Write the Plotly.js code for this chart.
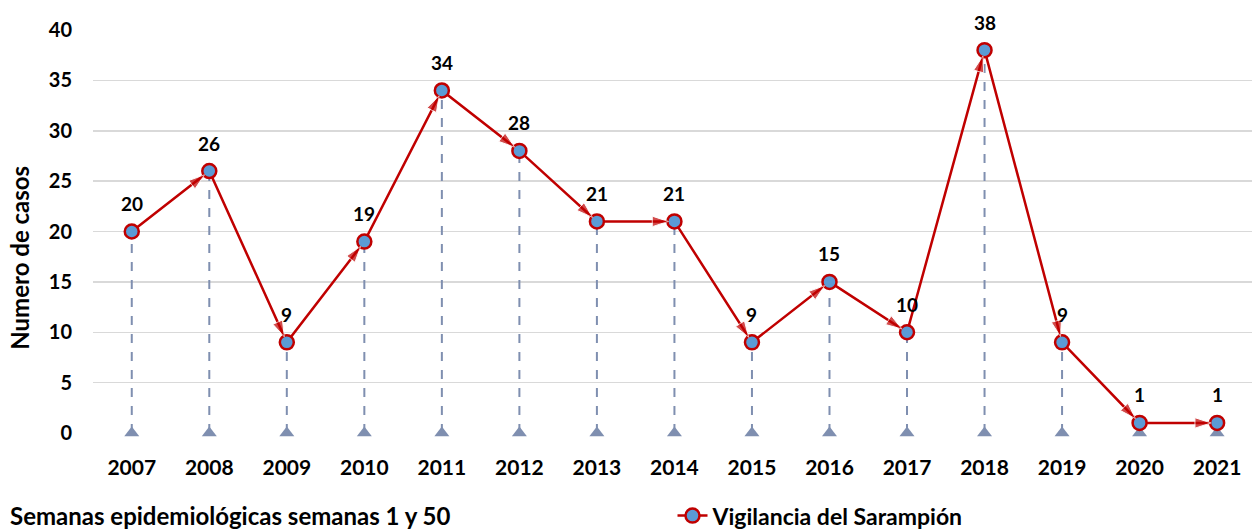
<!DOCTYPE html>
<html>
<head>
<meta charset="utf-8">
<script src="https://cdn.plot.ly/plotly-3.0.1.min.js"></script>
<style>
  html, body { margin: 0; padding: 0; background: #fff; }
  #chart { width: 1252px; height: 529px; }
</style>
</head>
<body>
<div id="chart"></div>
<script>
// ── Data ──────────────────────────────────────────────────────
const YEARS = ["2007", "2008", "2009", "2010", "2011", "2012", "2013", "2014",
               "2015", "2016", "2017", "2018", "2019", "2020", "2021"];
const CASES = [20, 26, 9, 19, 34, 28, 21, 21, 9, 15, 10, 38, 9, 1, 1];
const Y_TICKS = [0, 5, 10, 15, 20, 25, 30, 35, 40];

const RED  = "#C00000";
const BLUE = "#5B9BD5";
const DROP = "#7F8FB0";
const FONT = "Lato, 'Open Sans', sans-serif";

// drop lines: one segment per year, broken by nulls
const dropX = [], dropY = [];
YEARS.forEach((yr, i) => {
  dropX.push(yr, yr, null);
  dropY.push(0, CASES[i], null);
});

const traces = [
  {
    x: dropX, y: dropY, mode: "lines", type: "scatter",
    line: { color: DROP, width: 2, dash: "dash" },
    hoverinfo: "skip", showlegend: false,
  },
  {
    x: YEARS, y: YEARS.map(() => 0), mode: "markers", type: "scatter",
    marker: { symbol: "triangle-up", size: 13, color: DROP },
    cliponaxis: false, hoverinfo: "skip", showlegend: false,
  },
  {
    name: "Vigilancia del Sarampión",
    x: YEARS, y: CASES, mode: "lines+markers", type: "scatter",
    line: { color: RED, width: 2.5 },
    marker: { symbol: "circle", size: 14, color: BLUE, line: { color: RED, width: 2.5 } },
    cliponaxis: false,
  },
  {
    x: YEARS, y: CASES, mode: "markers", type: "scatter",
    marker: {
      symbol: "arrow", angleref: "previous", standoff: 6,
      size: CASES.map((_, i) => (i === 0 ? 0 : 17)),
      color: RED,
    },
    cliponaxis: false, hoverinfo: "skip", showlegend: false,
  },
];

// value labels above the points (category axis -> use index)
const labels = YEARS.map((yr, i) => ({
  x: i, y: CASES[i], text: String(CASES[i]),
  showarrow: false, yshift: 28,
  font: { family: FONT, size: 19, color: "#000", weight: "bold" },
}));

labels.push({
  xref: "paper", yref: "paper", x: -0.073, y: -0.205,
  xanchor: "left", yanchor: "middle",
  text: "Semanas epidemiológicas semanas 1 y 50", showarrow: false,
  font: { family: FONT, size: 24, color: "#000", weight: "bold" },
});

labels.push({
  xref: "paper", yref: "paper", x: -0.063, y: 0.435,
  xanchor: "center", yanchor: "middle", textangle: -90,
  text: "Numero de casos", showarrow: false,
  font: { family: FONT, size: 24, color: "#000", weight: "bold" },
});

const layout = {
  width: 1252, height: 529,
  margin: { t: 30, r: 0, b: 96, l: 93, autoexpand: false },
  paper_bgcolor: "#fff", plot_bgcolor: "#fff",
  font: { family: FONT, color: "#000" },
  xaxis: {
    type: "category", range: [-0.5, 14.45],
    showgrid: false, zeroline: false, showline: false,
    ticks: "", ticklabelstandoff: 20,
    tickfont: { family: FONT, size: 21, color: "#000", weight: "bold" },
  },
  yaxis: {
    range: [0, 40], tickvals: Y_TICKS,
    showgrid: true, gridcolor: "#D9D9D9", gridwidth: 1.5,
    zeroline: false, showline: false, ticks: "", ticklabelstandoff: 20,
    tickfont: { family: FONT, size: 20, color: "#000", weight: "bold" },
  },
  showlegend: true,
  legend: {
    orientation: "h", x: 0.5, y: -0.205, xanchor: "left", yanchor: "middle",
    font: { family: FONT, size: 23, color: "#000", weight: "bold" },
    bgcolor: "rgba(0,0,0,0)",
  },
  annotations: labels,
};

Plotly.newPlot("chart", traces, layout, { displayModeBar: false, staticPlot: true });
</script>
</body>
</html>
